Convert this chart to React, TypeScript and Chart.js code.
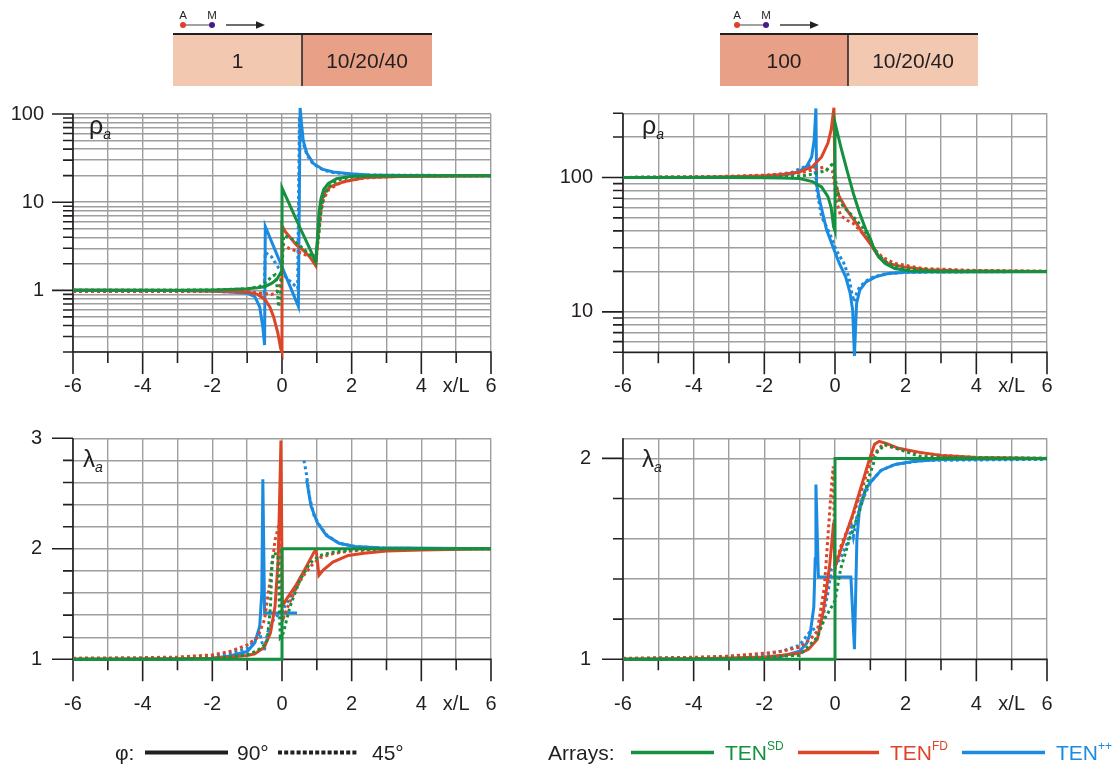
import React, { useEffect, useRef } from 'react';
import { Chart, registerables } from 'chart.js';

Chart.register(...registerables);

type Pt = [number, number | null];

const GREEN = '#15903f';
const RED = '#dc4528';
const BLUE = '#1a8be0';
const INK = '#231f20';
const GRID = '#9e9e9e';
const FONT = "'Liberation Sans', Arial, Helvetica, sans-serif";

// x axis
const xTickValues = [-6, -5, -4, -3, -2, -1, 0, 1, 2, 3, 4, 5, 6];
const xTickLabels = ['-6', '', '-4', '', '-2', '', '0', '', '2', '', '4', 'x/L', '6'];

// y axes
const rhoTicksL = [0.2, 0.3, 0.4, 0.5, 0.6, 0.7, 0.8, 0.9, 1, 2, 3, 4, 5, 6, 7, 8, 9, 10, 20, 30, 40, 50, 60, 70, 80, 90, 100];
const rhoLabelsL = [1, 10, 100];
const rhoTicksR = [5, 6, 7, 8, 9, 10, 20, 30, 40, 50, 60, 70, 80, 90, 100, 200, 300];
const rhoLabelsR = [10, 100];
const lamTicksL = [1, 1.2, 1.4, 1.6, 1.8, 2, 2.2, 2.4, 2.6, 2.8, 3];
const lamLabelsL = [1, 2, 3];
const lamTicksR = [1, 1.2, 1.4, 1.6, 1.8, 2, 2.1];
const lamMarksR = [1, 1.2, 1.4, 1.6, 1.8, 2];
const lamLabelsR = [1, 2];

// ---- top-left: rho_a, model 1 | 10/20/40
const rhoL_SD_90: Pt[] = [[-6, 1], [-4, 1], [-3, 1.005], [-2, 1.01], [-1.5, 1.02], [-1, 1.04], [-0.7, 1.07], [-0.5, 1.1], [-0.3, 1.2], [-0.15, 1.33], [-0.05, 1.55], [0, 1.7], [0, 14.5], [0.25, 8.8], [0.5, 5.3], [0.75, 3.25], [0.97, 2.1], [1.02, 4], [1.06, 7.5], [1.12, 11], [1.2, 14], [1.33, 16.3], [1.57, 18.5], [1.95, 19.6], [2.5, 20], [6, 20]];
const rhoL_SD_45: Pt[] = [[-6, 1], [-3, 1.005], [-2, 1.01], [-1, 1.04], [-0.6, 1.12], [-0.4, 1.3], [-0.28, 1.45], [-0.2, 1.5], [-0.15, 1.2], [-0.1, 0.65], [-0.05, 0.8], [0, 1.7], [0.05, 4.2], [0.3, 3.8], [0.6, 3], [0.95, 2.2], [1.05, 4], [1.12, 8], [1.2, 11.5], [1.35, 15], [1.6, 17.8], [2, 19.2], [2.6, 19.8], [6, 20]];
const rhoL_FD_90: Pt[] = [[-6, 1], [-3, 0.995], [-2, 0.99], [-1.5, 0.98], [-1, 0.96], [-0.7, 0.9], [-0.5, 0.8], [-0.35, 0.65], [-0.24, 0.5], [-0.12, 0.33], [-0.04, 0.22], [0, 0.2], [0, 5.4], [0.1, 4.6], [0.23, 4.0], [0.42, 3.25], [0.61, 2.85], [0.8, 2.4], [0.97, 1.9], [1.04, 4.8], [1.1, 8], [1.14, 10.5], [1.25, 13.3], [1.38, 14.9], [1.76, 17], [2.4, 19], [3.4, 19.6], [6, 20]];
const rhoL_FD_45: Pt[] = [[-6, 0.97], [-3, 0.97], [-2, 0.97], [-1, 0.96], [-0.6, 0.93], [-0.3, 0.9], [-0.15, 0.95], [-0.05, 1.2], [0, 1.6], [0.02, 3.3], [0.2, 3], [0.5, 2.7], [0.8, 2.4], [0.97, 2.0], [1.05, 4.3], [1.12, 8], [1.2, 11], [1.35, 14], [1.7, 16.8], [2.3, 18.7], [3.2, 19.5], [6, 19.9]];
const rhoL_PP_90: Pt[] = [[-6, 1], [-3, 0.995], [-2, 0.98], [-1.5, 0.96], [-1, 0.93], [-0.78, 0.85], [-0.64, 0.65], [-0.55, 0.38], [-0.5, 0.24], [-0.48, 5.3], [0.47, 0.66], [0.52, 117], [0.56, 78], [0.61, 50], [0.71, 36], [0.9, 27.5], [1.18, 23.5], [1.47, 22], [1.95, 21], [2.5, 20.4], [3.5, 20.1], [6, 20]];
const rhoL_PP_45: Pt[] = [[-6, 1], [-3, 1], [-2, 0.99], [-1, 0.97], [-0.75, 0.93], [-0.6, 0.85], [-0.52, 0.8], [-0.48, 2.7], [-0.3, 2.4], [-0.1, 1.8], [0.12, 1.4], [0.35, 1.15], [0.45, 1.05], [0.5, 90], [0.56, 60], [0.62, 45], [0.72, 34], [0.9, 27], [1.2, 23], [1.5, 21.6], [2, 20.8], [2.5, 20.3], [6, 20]];

// ---- top-right: rho_a, model 100 | 10/20/40
const rhoR_SD_90: Pt[] = [[-6, 100], [-3, 100], [-2, 99.5], [-1.5, 99], [-1, 98], [-0.64, 93], [-0.38, 85], [-0.2, 72], [-0.11, 60], [-0.04, 43], [0, 40], [0, 255], [0.16, 170], [0.34, 113], [0.52, 76], [0.7, 54], [0.88, 40.5], [1, 35], [1.1, 29.6], [1.24, 25.6], [1.42, 22.9], [1.69, 21], [2.13, 20.1], [3, 19.9], [6, 19.9]];
const rhoR_SD_45: Pt[] = [[-6, 100], [-3, 100.5], [-2, 101], [-1, 102], [-0.55, 107], [-0.24, 113], [-0.11, 123], [-0.04, 130], [0, 101], [0.12, 68], [0.25, 60], [0.52, 51], [0.79, 42], [0.97, 35], [1.19, 27], [1.5, 22.9], [1.95, 21], [3, 20.2], [6, 20]];
const rhoR_FD_90: Pt[] = [[-6, 100], [-4, 100.3], [-3, 101], [-2, 103], [-1.5, 105], [-1, 110], [-0.64, 120], [-0.38, 142], [-0.2, 180], [-0.11, 225], [-0.03, 330], [0, 90], [0.12, 72], [0.34, 57], [0.61, 45.4], [0.79, 38], [1, 32], [1.24, 25.6], [1.5, 22.9], [1.95, 21.6], [2.6, 20.6], [3.5, 20.2], [6, 20]];
const rhoR_FD_45: Pt[] = [[-6, 100], [-4, 101], [-3, 102], [-2, 104], [-1.5, 106], [-1, 108], [-0.55, 115], [-0.33, 119], [-0.2, 113], [-0.06, 110], [-0.02, 90], [0.03, 68], [0.16, 52], [0.34, 48], [0.52, 45.4], [0.7, 40.5], [0.88, 36], [1.06, 30.5], [1.33, 25.6], [1.69, 22.9], [2.5, 21], [4, 20.3], [6, 20]];
const rhoR_PP_90: Pt[] = [[-6, 100], [-4, 100], [-3, 100.5], [-2, 102], [-1.5, 104], [-1.18, 107], [-1, 111], [-0.8, 121], [-0.66, 142], [-0.59, 190], [-0.54, 326], [-0.52, 88], [-0.42, 65], [-0.24, 41], [-0.06, 30.5], [0.12, 23], [0.3, 18.3], [0.43, 13.7], [0.5, 10.3], [0.55, 4.7], [0.61, 11.5], [0.7, 14.5], [0.88, 16.7], [1.15, 18.2], [1.5, 19.3], [2, 19.7], [3, 19.9], [6, 20]];
const rhoR_PP_45: Pt[] = [[-6, 100], [-3, 101], [-2, 103], [-1.5, 106], [-1.18, 110], [-1, 116], [-0.73, 123], [-0.6, 122], [-0.55, 105], [-0.51, 80], [-0.46, 67], [-0.38, 51], [-0.24, 43], [-0.11, 36], [0.03, 29], [0.25, 23], [0.39, 18.3], [0.48, 13.7], [0.54, 11.9], [0.61, 13.7], [0.7, 15.4], [0.97, 17.7], [1.33, 19], [2, 19.7], [6, 20]];

// ---- bottom-left: lambda_a, model 1 | 10/20/40
const lamL_SD_90: Pt[] = [[-6, 1], [0, 1], [0, 2], [6, 2]];
const lamL_SD_45: Pt[] = [[-6, 1], [-4, 1.002], [-3, 1.005], [-2, 1.01], [-1.5, 1.02], [-1, 1.04], [-0.7, 1.08], [-0.5, 1.13], [-0.42, 1.18], [-0.33, 1.48], [-0.29, 1.87], [-0.25, 1.96], [-0.12, 1.95], [-0.05, 1.2], [0.04, 1.24], [0.23, 1.48], [0.52, 1.72], [0.8, 1.87], [1.09, 1.94], [1.47, 1.97], [2, 1.99], [3, 2], [6, 2]];
const lamL_FD_90: Pt[] = [[-6, 1], [-4, 1.002], [-3, 1.005], [-2, 1.01], [-1.5, 1.02], [-1, 1.035], [-0.78, 1.05], [-0.51, 1.11], [-0.33, 1.24], [-0.2, 1.48], [-0.11, 1.9], [-0.06, 2.57], [-0.03, 2.98], [0.01, 1.48], [0.12, 1.54], [0.38, 1.66], [0.65, 1.81], [0.92, 1.97], [0.98, 1.99], [1.06, 1.76], [1.19, 1.81], [1.46, 1.88], [1.9, 1.94], [2.35, 1.96], [3, 1.98], [4, 1.99], [6, 2]];
const lamL_FD_45: Pt[] = [[-6, 1.01], [-4, 1.015], [-3, 1.02], [-2, 1.04], [-1.5, 1.07], [-1, 1.13], [-0.7, 1.2], [-0.5, 1.36], [-0.3, 1.81], [-0.2, 2.08], [-0.1, 2.2], [-0.06, 2.25], [-0.02, 1.5], [0.05, 1.38], [0.2, 1.5], [0.4, 1.64], [0.6, 1.75], [0.85, 1.85], [1.1, 1.92], [1.5, 1.96], [2, 1.98], [3, 2], [6, 2]];
const lamL_PP_90: Pt[] = [[-6, 1], [-4, 1.001], [-3, 1.003], [-2, 1.01], [-1.5, 1.03], [-1, 1.07], [-0.78, 1.15], [-0.64, 1.3], [-0.58, 1.6], [-0.55, 2.63], [-0.5, 1.42], [0.43, 1.42], [0.5, null], [0.71, 2.62], [0.83, 2.39], [1.01, 2.24], [1.28, 2.12], [1.64, 2.05], [2.09, 2.02], [2.8, 2.01], [6, 2]];
const lamL_PP_45: Pt[] = [[-6, 1], [-4, 1.003], [-3, 1.01], [-2, 1.03], [-1.5, 1.05], [-1, 1.1], [-0.78, 1.17], [-0.64, 1.24], [-0.51, 1.07], [-0.42, 1.24], [-0.24, 1.36], [0.03, 1.45], [0.2, 1.54], [0.34, 1.63], [0.47, 1.69], [0.55, null], [0.63, 2.8], [0.7, 2.68], [0.79, 2.47], [0.92, 2.3], [1.1, 2.2], [1.3, 2.12], [1.64, 2.05], [2.1, 2.02], [3, 2.005], [6, 2]];

// ---- bottom-right: lambda_a, model 100 | 10/20/40
const lamR_SD_90: Pt[] = [[-6, 1], [0, 1], [0, 2], [6, 2]];
const lamR_SD_45: Pt[] = [[-6, 1], [-3, 1.005], [-2, 1.01], [-1, 1.02], [-0.5, 1.11], [-0.3, 1.2], [-0.1, 1.26], [0, 1.29], [0.16, 1.45], [0.43, 1.61], [0.7, 1.74], [0.97, 1.91], [1.19, 2.03], [1.42, 2.07], [1.9, 2.04], [2.4, 2.01], [3, 2.005], [6, 2]];
const lamR_FD_90: Pt[] = [[-6, 1], [-4, 1.003], [-3, 1.006], [-2, 1.012], [-1.5, 1.02], [-1, 1.03], [-0.75, 1.05], [-0.5, 1.1], [-0.33, 1.24], [-0.24, 1.35], [-0.15, 1.47], [-0.08, 1.6], [-0.04, 1.68], [0, 1.46], [0.5, 1.72], [1, 2.01], [1.12, 2.07], [1.25, 2.085], [1.45, 2.075], [1.8, 2.05], [2.4, 2.03], [3, 2.015], [4, 2.005], [6, 2]];
const lamR_FD_45: Pt[] = [[-6, 1.005], [-4, 1.01], [-3, 1.015], [-2, 1.03], [-1.5, 1.04], [-1, 1.06], [-0.7, 1.1], [-0.5, 1.14], [-0.3, 1.36], [-0.2, 1.61], [-0.1, 1.86], [-0.05, 1.96], [0, 1.45], [0.16, 1.56], [0.52, 1.72], [0.79, 1.86], [1.05, 2.01], [1.35, 2.07], [1.7, 2.05], [2.3, 2.03], [3, 2.015], [4, 2.005], [6, 2]];
const lamR_PP_90: Pt[] = [[-6, 1], [-4, 1.001], [-3, 1.003], [-2, 1.008], [-1.5, 1.015], [-1, 1.04], [-0.8, 1.08], [-0.7, 1.13], [-0.6, 1.26], [-0.56, 1.5], [-0.54, 1.87], [-0.47, 1.41], [0.45, 1.41], [0.55, 1.05], [0.62, 1.6], [0.7, 1.76], [0.85, 1.84], [1, 1.88], [1.3, 1.94], [1.7, 1.97], [2.2, 1.985], [3, 1.995], [6, 1.998]];
const lamR_PP_45: Pt[] = [[-6, 1.003], [-4, 1.008], [-3, 1.015], [-2, 1.025], [-1.5, 1.04], [-1, 1.07], [-0.7, 1.14], [-0.5, 1.16], [-0.4, 1.16], [-0.2, 1.33], [-0.1, 1.45], [0.15, 1.5], [0.35, 1.58], [0.47, 1.66], [0.52, 1.61], [0.62, 1.71], [0.8, 1.8], [1, 1.88], [1.3, 1.94], [1.7, 1.97], [2.5, 1.99], [6, 1.995]];

interface Series { data: Pt[]; color: string; dotted: boolean }
interface PanelCfg {
  left: number; top: number; w: number; h: number;
  area: [number, number, number, number];
  log: boolean; yMin: number; yMax: number;
  yTicks: number[]; yMarks: number[]; yLabels: number[];
  yPad: number; xPad: number;
  series: Series[];
}

const mk = (g90: Pt[], g45: Pt[], r90: Pt[], r45: Pt[], b90: Pt[], b45: Pt[]): Series[] => [
  { data: g90, color: GREEN, dotted: false },
  { data: g45, color: GREEN, dotted: true },
  { data: r90, color: RED, dotted: false },
  { data: r45, color: RED, dotted: true },
  { data: b90, color: BLUE, dotted: false },
  { data: b45, color: BLUE, dotted: true },
];

const panels: PanelCfg[] = [
  { left: 0, top: 90, w: 556, h: 310, area: [73, 24, 491, 262], log: true, yMin: 0.2, yMax: 100, yTicks: rhoTicksL, yMarks: rhoTicksL, yLabels: rhoLabelsL, yPad: 29, xPad: 22,
    series: mk(rhoL_SD_90, rhoL_SD_45, rhoL_FD_90, rhoL_FD_45, rhoL_PP_90, rhoL_PP_45) },
  { left: 556, top: 90, w: 556, h: 310, area: [67, 23.3, 491, 262.3], log: true, yMin: 5, yMax: 300, yTicks: rhoTicksR, yMarks: rhoTicksR, yLabels: rhoLabelsR, yPad: 30, xPad: 22,
    series: mk(rhoR_SD_90, rhoR_SD_45, rhoR_FD_90, rhoR_FD_45, rhoR_PP_90, rhoR_PP_45) },
  { left: 0, top: 400, w: 556, h: 330, area: [73, 38.3, 491, 259.3], log: false, yMin: 1, yMax: 3, yTicks: lamTicksL, yMarks: lamTicksL, yLabels: lamLabelsL, yPad: 31, xPad: 33,
    series: mk(lamL_SD_90, lamL_SD_45, lamL_FD_90, lamL_FD_45, lamL_PP_90, lamL_PP_45) },
  { left: 556, top: 400, w: 556, h: 330, area: [67, 38.3, 491, 259.3], log: false, yMin: 1, yMax: 2.1, yTicks: lamTicksR, yMarks: lamMarksR, yLabels: lamLabelsR, yPad: 32, xPad: 33,
    series: mk(lamR_SD_90, lamR_SD_45, lamR_FD_90, lamR_FD_45, lamR_PP_90, lamR_PP_45) },
];

const isIn = (list: number[], v: number) => list.some((m) => Math.abs(m - v) < 1e-9);

function Panel({ cfg }: { cfg: PanelCfg }) {
  const ref = useRef<HTMLCanvasElement>(null);
  useEffect(() => {
    const [l, t, r, b] = cfg.area;
    const deco = {
      id: 'deco',
      beforeDatasetsDraw(ch: any) {
        const { ctx, chartArea: a } = ch;
        const xs = ch.scales.x;
        const ys = ch.scales.y;
        ctx.save();
        ctx.strokeStyle = INK;
        ctx.lineWidth = 1.6;
        ctx.beginPath();
        ctx.moveTo(a.left, a.top);
        ctx.lineTo(a.left, a.bottom);
        ctx.moveTo(a.left, a.bottom);
        ctx.lineTo(a.right + 0.8, a.bottom);
        xTickValues.forEach((v) => {
          const p = xs.getPixelForValue(v);
          ctx.moveTo(p, a.bottom);
          ctx.lineTo(p, a.bottom + (v % 2 === 0 ? 22 : 11));
        });
        cfg.yMarks.forEach((v) => {
          const p = ys.getPixelForValue(v);
          const len = isIn(cfg.yLabels, v) ? 21 : 10;
          ctx.moveTo(a.left - len, p);
          ctx.lineTo(a.left, p);
        });
        ctx.stroke();
        ctx.restore();
      },
    };
    const hidden = 'rgba(0,0,0,0)';
    const chart = new Chart(ref.current as HTMLCanvasElement, {
      type: 'line',
      data: {
        datasets: cfg.series.map((s) => ({
          data: s.data.map(([x, y]) => ({ x, y })),
          borderColor: s.color,
          backgroundColor: s.color,
          borderWidth: 3,
          borderDash: s.dotted ? [3, 3] : [],
          pointRadius: 0,
          pointHoverRadius: 0,
          tension: 0,
          fill: false,
          clip: false,
          spanGaps: false,
        })) as any,
      },
      options: {
        responsive: false,
        animation: false,
        events: [],
        layout: { padding: { left: 0, top: t, right: cfg.w - r, bottom: 0 } },
        plugins: { legend: { display: false }, tooltip: { enabled: false } },
        scales: {
          x: {
            type: 'linear',
            min: -6,
            max: 6,
            afterBuildTicks: (s: any) => { s.ticks = xTickValues.map((v) => ({ value: v })); },
            afterFit: (s: any) => { s.height = cfg.h - b; },
            grid: { color: GRID, lineWidth: 1.4, drawTicks: true, tickLength: cfg.xPad, tickColor: hidden },
            border: { display: false },
            ticks: {
              autoSkip: false, maxRotation: 0, minRotation: 0, padding: 0, color: INK,
              font: { family: FONT, size: 20 },
              callback: (v: any) => { const i = xTickValues.indexOf(Number(v)); return i >= 0 ? xTickLabels[i] : ''; },
            },
          },
          y: {
            type: cfg.log ? 'logarithmic' : 'linear',
            min: cfg.yMin,
            max: cfg.yMax,
            afterBuildTicks: (s: any) => { s.ticks = cfg.yTicks.map((v) => ({ value: v })); },
            afterFit: (s: any) => { s.width = l; },
            grid: { color: GRID, lineWidth: 1.4, drawTicks: true, tickLength: cfg.yPad, tickColor: hidden },
            border: { display: false },
            ticks: {
              autoSkip: false, padding: 0, color: INK,
              font: { family: FONT, size: 20 },
              callback: (v: any) => (isIn(cfg.yLabels, Number(v)) ? String(Number(v)) : ''),
            },
          },
        } as any,
      },
      plugins: [deco],
    });
    return () => chart.destroy();
  }, [cfg]);
  return (
    <canvas ref={ref} width={cfg.w} height={cfg.h}
      style={{ position: 'absolute', left: cfg.left, top: cfg.top, width: cfg.w, height: cfg.h }} />
  );
}

function Header({ x0, xs, x1, c1, c2, t1, t2, ax }: { x0: number; xs: number; x1: number; c1: string; c2: string; t1: string; t2: string; ax: number }) {
  return (
    <g>
      <rect x={x0} y={34} width={xs - x0} height={52} fill={c1} />
      <rect x={xs} y={34} width={x1 - xs} height={52} fill={c2} />
      <line x1={x0} y1={34} x2={x1} y2={34} stroke={INK} strokeWidth={1.8} />
      <line x1={xs} y1={34} x2={xs} y2={86} stroke={INK} strokeWidth={1.5} />
      <text x={(x0 + xs) / 2} y={67.5} textAnchor="middle" fontSize={21}>{t1}</text>
      <text x={(xs + x1) / 2} y={67.5} textAnchor="middle" fontSize={21}>{t2}</text>
      <text x={ax} y={18.5} textAnchor="middle" fontSize={11.5}>A</text>
      <text x={ax + 29} y={18.5} textAnchor="middle" fontSize={11.5}>M</text>
      <line x1={ax} y1={25} x2={ax + 29} y2={25} stroke="#7a7a7a" strokeWidth={1.4} />
      <circle cx={ax} cy={25} r={3} fill="#e0402a" />
      <circle cx={ax + 29} cy={25} r={3} fill="#4a1a86" />
      <line x1={ax + 43} y1={25} x2={ax + 75} y2={25} stroke={INK} strokeWidth={1.3} />
      <polygon points={`${ax + 82},25 ${ax + 73},21.2 ${ax + 73},28.8`} fill={INK} />
    </g>
  );
}

export default function App() {
  return (
    <div style={{ position: 'absolute', left: 0, top: 0, width: 1112, height: 769, background: '#ffffff', overflow: 'hidden' }}>
      {panels.map((p, i) => <Panel key={i} cfg={p} />)}
      <svg width={1112} height={769} style={{ position: 'absolute', left: 0, top: 0, pointerEvents: 'none' }}
        fontFamily={FONT} fill={INK}>
        <Header x0={173} xs={302} x1={432} c1="#f2c8b1" c2="#e8a086" t1="1" t2="10/20/40" ax={183} />
        <Header x0={720} xs={848} x1={978} c1="#e8a086" c2="#f2c8b1" t1="100" t2="10/20/40" ax={737} />

        <text x={89} y={134} fontSize={25}>ρ<tspan fontSize={14} fontStyle="italic" dy={5}>a</tspan></text>
        <text x={642} y={134} fontSize={25}>ρ<tspan fontSize={14} fontStyle="italic" dy={5}>a</tspan></text>
        <text x={83} y={467} fontSize={24}>λ<tspan fontSize={14} fontStyle="italic" dy={5}>a</tspan></text>
        <text x={642} y={467} fontSize={24}>λ<tspan fontSize={14} fontStyle="italic" dy={5}>a</tspan></text>

        <text x={115} y={760} fontSize={21}>φ:</text>
        <line x1={145} y1={752.5} x2={228} y2={752.5} stroke={INK} strokeWidth={4} />
        <text x={237} y={760} fontSize={21}>90°</text>
        <line x1={278} y1={752.5} x2={358} y2={752.5} stroke={INK} strokeWidth={4} strokeDasharray="4 2.2" />
        <text x={372} y={760} fontSize={21}>45°</text>

        <text x={548} y={760} fontSize={21}>Arrays:</text>
        <line x1={631} y1={752.5} x2={714} y2={752.5} stroke={GREEN} strokeWidth={3.5} />
        <text x={725} y={760} fontSize={21} fill={GREEN}>TEN<tspan fontSize={12} dy={-10}>SD</tspan></text>
        <line x1={798} y1={752.5} x2={879} y2={752.5} stroke={RED} strokeWidth={3.5} />
        <text x={890} y={760} fontSize={21} fill={RED}>TEN<tspan fontSize={12} dy={-10}>FD</tspan></text>
        <line x1={962} y1={752.5} x2={1045} y2={752.5} stroke={BLUE} strokeWidth={3.5} />
        <text x={1056} y={760} fontSize={21} fill={BLUE}>TEN<tspan fontSize={12} dy={-10}>++</tspan></text>
      </svg>
    </div>
  );
}
